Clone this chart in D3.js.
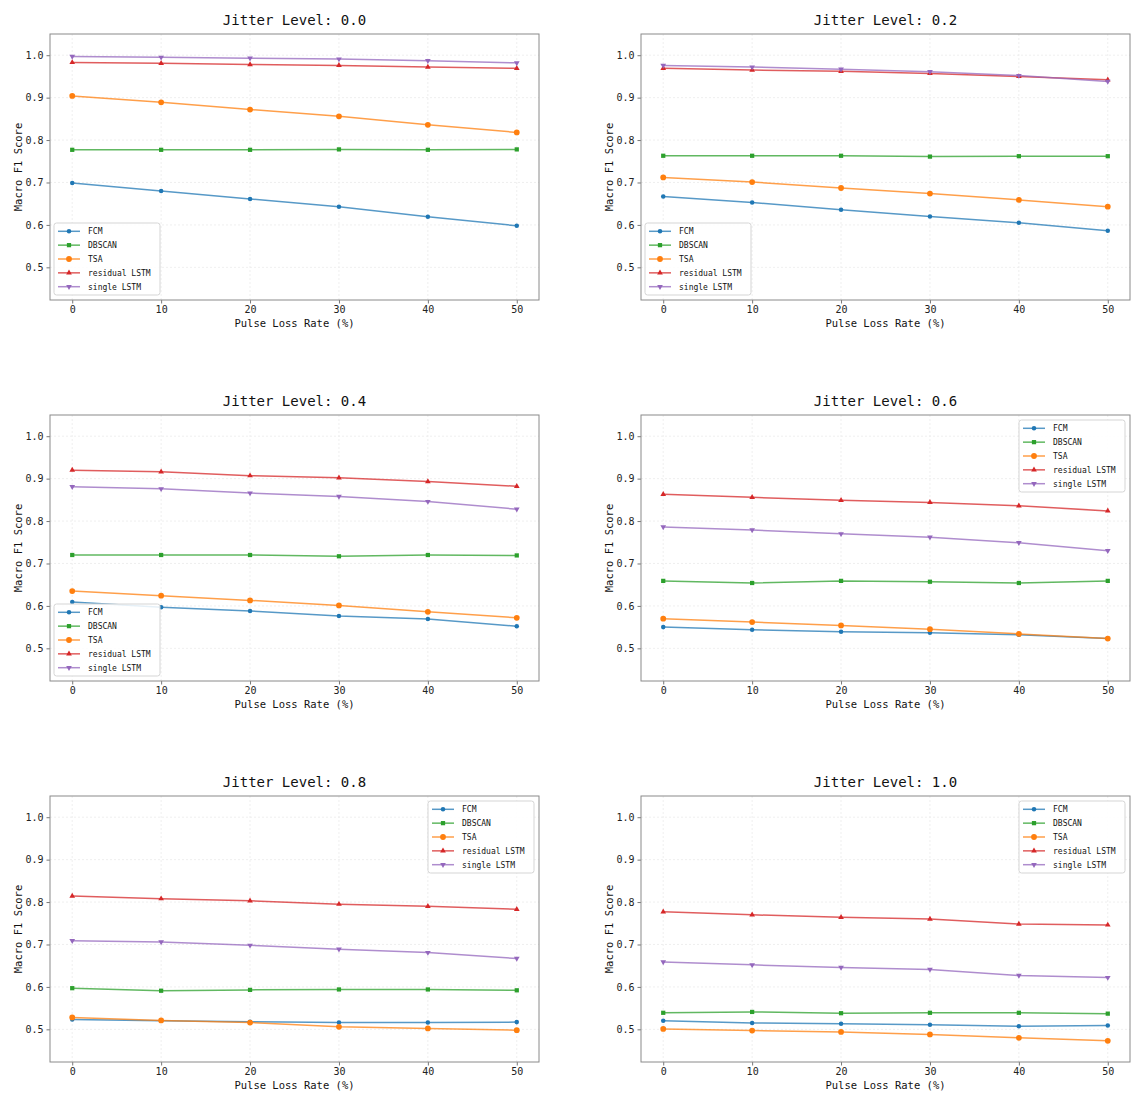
<!DOCTYPE html>
<html>
<head>
<meta charset="utf-8">
<script src="https://cdn.jsdelivr.net/npm/d3@7"></script>
<style>
  body { margin: 0; background: #fff; }
  svg text { font-family: "DejaVu Sans Mono", "Liberation Mono", monospace; fill: #111; }
</style>
</head>
<body>
<div id="chart"></div>
<script>
// Macro F1 vs pulse loss rate, one panel per jitter level

const lossRates = [0, 10, 20, 30, 40, 50];
const jitterLevels = ['0.0', '0.2', '0.4', '0.6', '0.8', '1.0'];
const methods = ['FCM', 'DBSCAN', 'TSA', 'residual LSTM', 'single LSTM'];
const yTicks = [0.5, 0.6, 0.7, 0.8, 0.9, 1.0];
const xTicks = [0, 10, 20, 30, 40, 50];

// one row per jitter level, one value per loss rate
const fcmScores = [
  [0.699, 0.680, 0.661, 0.643, 0.619, 0.598],
  [0.667, 0.653, 0.636, 0.620, 0.605, 0.586],
  [0.609, 0.597, 0.588, 0.576, 0.569, 0.552],
  [0.550, 0.544, 0.539, 0.537, 0.532, 0.523],
  [0.523, 0.520, 0.518, 0.516, 0.516, 0.517],
  [0.520, 0.515, 0.513, 0.511, 0.507, 0.509]
];
const dbscanScores = [
  [0.777, 0.777, 0.777, 0.778, 0.777, 0.778],
  [0.763, 0.763, 0.763, 0.761, 0.762, 0.762],
  [0.720, 0.720, 0.720, 0.717, 0.720, 0.719],
  [0.659, 0.654, 0.659, 0.657, 0.654, 0.659],
  [0.597, 0.591, 0.593, 0.594, 0.594, 0.592],
  [0.539, 0.541, 0.538, 0.539, 0.539, 0.537]
];
const tsaScores = [
  [0.904, 0.889, 0.872, 0.856, 0.836, 0.818],
  [0.712, 0.701, 0.687, 0.674, 0.659, 0.643],
  [0.635, 0.624, 0.613, 0.601, 0.586, 0.572],
  [0.570, 0.562, 0.554, 0.545, 0.534, 0.523],
  [0.528, 0.521, 0.516, 0.506, 0.502, 0.498],
  [0.501, 0.497, 0.494, 0.488, 0.480, 0.473]
];
const residualScores = [
  [0.983, 0.981, 0.978, 0.976, 0.972, 0.969],
  [0.969, 0.965, 0.962, 0.957, 0.950, 0.942],
  [0.920, 0.916, 0.907, 0.902, 0.893, 0.882],
  [0.863, 0.856, 0.849, 0.844, 0.836, 0.824],
  [0.814, 0.808, 0.803, 0.795, 0.790, 0.783],
  [0.777, 0.770, 0.764, 0.760, 0.748, 0.746]
];
const singleScores = [
  [0.997, 0.995, 0.993, 0.991, 0.987, 0.982],
  [0.976, 0.972, 0.967, 0.961, 0.952, 0.938],
  [0.881, 0.876, 0.866, 0.858, 0.846, 0.828],
  [0.786, 0.779, 0.770, 0.762, 0.749, 0.730],
  [0.709, 0.706, 0.698, 0.689, 0.681, 0.667],
  [0.659, 0.652, 0.646, 0.641, 0.627, 0.622]
];

const scoreSets = [fcmScores, dbscanScores, tsaScores, residualScores, singleScores];
const colors = ['#1f77b4', '#2ca02c', '#ff7f0e', '#d62728', '#9467bd'];
const symbols = [
  {type: d3.symbolCircle, size: 16, rot: 0},
  {type: d3.symbolSquare, size: 18, rot: 0},
  {type: d3.symbolCircle, size: 26, rot: 0},
  {type: d3.symbolTriangle, size: 14, rot: 0},
  {type: d3.symbolTriangle, size: 14, rot: 180}
];
const legendPlace = ['lower left', 'lower left', 'lower left', 'upper right', 'upper right', 'upper right'];

const W = 1142, H = 1106;
const colX = [50, 641];
const rowY = [34, 415, 796];
const axW = 489, axH = 266;

const svg = d3.select('#chart').append('svg')
  .attr('width', W)
  .attr('height', H);

const x = d3.scaleLinear().domain([-2.5, 52.5]).range([0, axW]);
const y = d3.scaleLinear().domain([0.423, 1.05]).range([axH, 0]);

jitterLevels.forEach((level, p) => {
  const g = svg.append('g')
    .attr('transform', `translate(${colX[p % 2]},${rowY[Math.floor(p / 2)]})`);

  // grid
  g.append('g').selectAll('line')
    .data(xTicks).enter().append('line')
    .attr('x1', d => x(d)).attr('x2', d => x(d))
    .attr('y1', 0).attr('y2', axH)
    .attr('stroke', '#ebebeb').attr('stroke-width', 0.8)
    .attr('stroke-dasharray', '2,2');
  g.append('g').selectAll('line')
    .data(yTicks).enter().append('line')
    .attr('y1', d => y(d)).attr('y2', d => y(d))
    .attr('x1', 0).attr('x2', axW)
    .attr('stroke', '#ebebeb').attr('stroke-width', 0.8)
    .attr('stroke-dasharray', '2,2');

  // axes
  const xa = g.append('g')
    .attr('transform', `translate(0,${axH})`)
    .call(d3.axisBottom(x).tickValues(xTicks).tickSize(3.5).tickPadding(2));
  const ya = g.append('g')
    .call(d3.axisLeft(y).tickValues(yTicks).tickFormat(d3.format('.1f')).tickSize(3.5).tickPadding(3));
  [xa, ya].forEach(a => {
    a.select('.domain').remove();
    a.selectAll('.tick line').attr('stroke', '#777');
    a.selectAll('.tick text')
      .style('font-family', '"DejaVu Sans Mono", monospace')
      .style('font-size', '10px')
      .style('fill', '#222');
  });

  // lines + markers
  scoreSets.forEach((set, m) => {
    const vals = set[p];
    const line = d3.line()
      .x((d, i) => x(lossRates[i]))
      .y(d => y(d));
    g.append('path')
      .datum(vals)
      .attr('fill', 'none')
      .attr('stroke', colors[m])
      .attr('stroke-width', 1.5)
      .attr('stroke-opacity', 0.75)
      .attr('d', line);
    const sym = d3.symbol().type(symbols[m].type).size(symbols[m].size);
    g.selectAll(null)
      .data(vals).enter().append('path')
      .attr('d', sym)
      .attr('fill', colors[m])
      .attr('transform', (d, i) => `translate(${x(lossRates[i])},${y(d)}) rotate(${symbols[m].rot})`);
  });

  // frame
  g.append('rect')
    .attr('width', axW).attr('height', axH)
    .attr('fill', 'none')
    .attr('stroke', '#8a8a8a')
    .attr('stroke-width', 1);

  // titles
  g.append('text')
    .attr('x', axW / 2).attr('y', -9)
    .attr('text-anchor', 'middle')
    .style('font-size', '14px')
    .text(`Jitter Level: ${level}`);
  g.append('text')
    .attr('x', axW / 2).attr('y', axH + 27)
    .attr('text-anchor', 'middle')
    .style('font-size', '10.5px')
    .text('Pulse Loss Rate (%)');
  g.append('text')
    .attr('transform', `translate(-28,${axH / 2}) rotate(-90)`)
    .attr('text-anchor', 'middle')
    .style('font-size', '10.5px')
    .text('Macro F1 Score');

  // legend
  const lw = 106, lh = 72;
  const lx = legendPlace[p] === 'lower left' ? 4 : axW - lw - 5;
  const ly = legendPlace[p] === 'lower left' ? axH - lh - 5 : 5;
  const lg = g.append('g').attr('transform', `translate(${lx},${ly})`);
  lg.append('rect')
    .attr('width', lw).attr('height', lh)
    .attr('rx', 2.5)
    .attr('fill', '#fff').attr('fill-opacity', 0.85)
    .attr('stroke', '#d5d5d5');
  methods.forEach((name, m) => {
    const cy = 8.3 + m * 13.85;
    lg.append('line')
      .attr('x1', 4).attr('x2', 26)
      .attr('y1', cy).attr('y2', cy)
      .attr('stroke', colors[m]).attr('stroke-width', 1.5).attr('stroke-opacity', 0.75);
    lg.append('path')
      .attr('d', d3.symbol().type(symbols[m].type).size(symbols[m].size))
      .attr('fill', colors[m])
      .attr('transform', `translate(15,${cy}) rotate(${symbols[m].rot})`);
    lg.append('text')
      .attr('x', 34).attr('y', cy)
      .attr('dy', '0.35em')
      .style('font-size', '8px')
      .text(name);
  });
});
</script>
</body>
</html>
